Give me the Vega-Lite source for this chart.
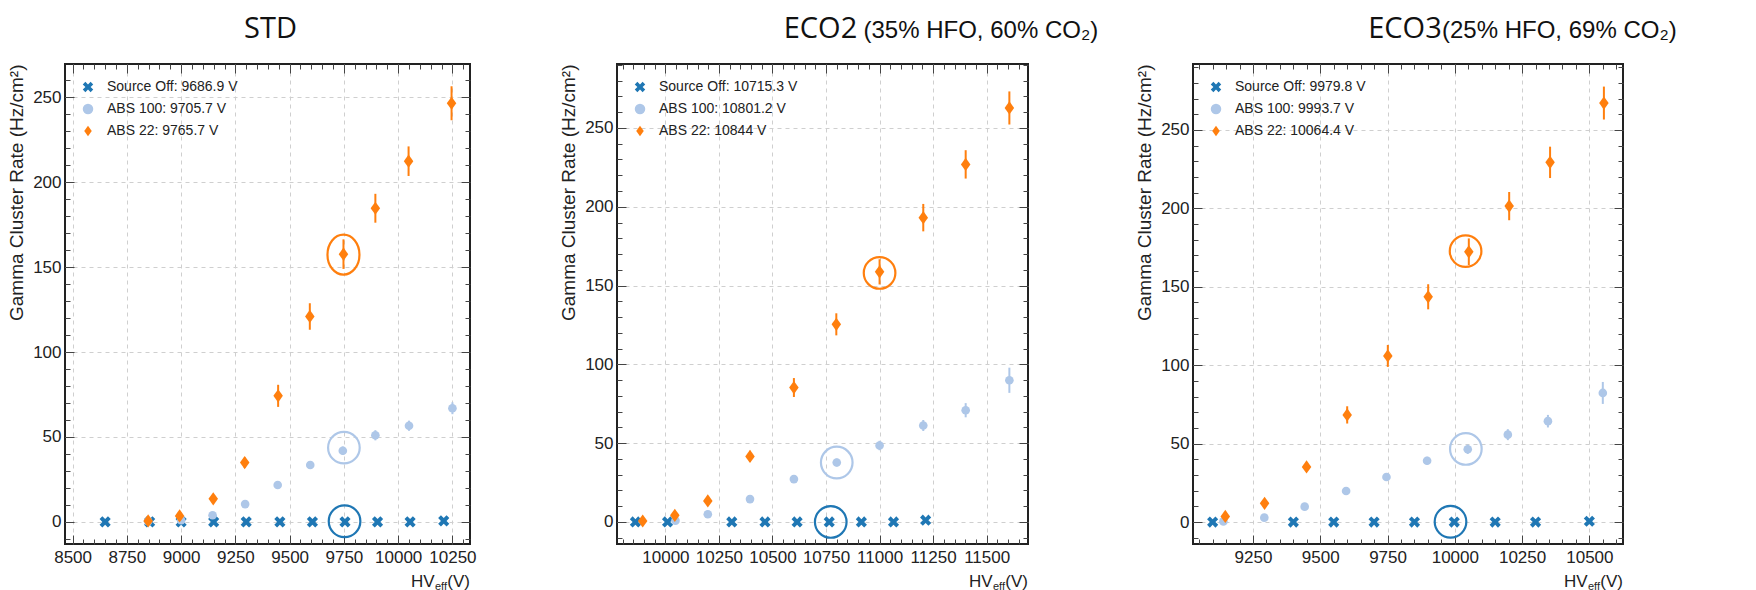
{
  "$schema": "https://vega.github.io/schema/vega-lite/v6.json",
  "background": "white",
  "padding": {"left": 6, "top": 14, "right": 0, "bottom": 0},
  "datasets": {
    "pts": [
      {"panel": "STD", "series": "Source Off: 9686.9 V", "hv": 8650, "rate": 0, "lo": -0.2, "hi": 0.2},
      {"panel": "STD", "series": "Source Off: 9686.9 V", "hv": 8855, "rate": 0, "lo": -0.2, "hi": 0.2},
      {"panel": "STD", "series": "Source Off: 9686.9 V", "hv": 9000, "rate": 0, "lo": -0.2, "hi": 0.2},
      {"panel": "STD", "series": "Source Off: 9686.9 V", "hv": 9150, "rate": 0, "lo": -0.2, "hi": 0.2},
      {"panel": "STD", "series": "Source Off: 9686.9 V", "hv": 9300, "rate": 0, "lo": -0.2, "hi": 0.2},
      {"panel": "STD", "series": "Source Off: 9686.9 V", "hv": 9455, "rate": 0, "lo": -0.2, "hi": 0.2},
      {"panel": "STD", "series": "Source Off: 9686.9 V", "hv": 9605, "rate": 0, "lo": -0.2, "hi": 0.2},
      {"panel": "STD", "series": "Source Off: 9686.9 V", "hv": 9755, "rate": 0, "lo": -0.2, "hi": 0.2},
      {"panel": "STD", "series": "Source Off: 9686.9 V", "hv": 9905, "rate": 0, "lo": -0.2, "hi": 0.2},
      {"panel": "STD", "series": "Source Off: 9686.9 V", "hv": 10055, "rate": 0, "lo": -0.2, "hi": 0.2},
      {"panel": "STD", "series": "Source Off: 9686.9 V", "hv": 10210, "rate": 0.6, "lo": 0.3, "hi": 0.9},
      {"panel": "STD", "series": "ABS 100: 9705.7 V", "hv": 8848, "rate": 0.4, "lo": 0.2, "hi": 0.6},
      {"panel": "STD", "series": "ABS 100: 9705.7 V", "hv": 9000, "rate": 1.0, "lo": 0.7, "hi": 1.3},
      {"panel": "STD", "series": "ABS 100: 9705.7 V", "hv": 9145, "rate": 3.9, "lo": 3.3, "hi": 4.5},
      {"panel": "STD", "series": "ABS 100: 9705.7 V", "hv": 9295, "rate": 10.5, "lo": 9.5, "hi": 11.5},
      {"panel": "STD", "series": "ABS 100: 9705.7 V", "hv": 9445, "rate": 21.7, "lo": 20.2, "hi": 23.2},
      {"panel": "STD", "series": "ABS 100: 9705.7 V", "hv": 9595, "rate": 33.5, "lo": 31.3, "hi": 35.7},
      {"panel": "STD", "series": "ABS 100: 9705.7 V", "hv": 9745, "rate": 41.9, "lo": 39.4, "hi": 44.4},
      {"panel": "STD", "series": "ABS 100: 9705.7 V", "hv": 9895, "rate": 51.0, "lo": 48.0, "hi": 54.0},
      {"panel": "STD", "series": "ABS 100: 9705.7 V", "hv": 10050, "rate": 56.6, "lo": 53.6, "hi": 59.6},
      {"panel": "STD", "series": "ABS 100: 9705.7 V", "hv": 10250, "rate": 66.9, "lo": 63.4, "hi": 70.4},
      {"panel": "STD", "series": "ABS 22: 9765.7 V", "hv": 8848, "rate": 0.6, "lo": 0.1, "hi": 1.1},
      {"panel": "STD", "series": "ABS 22: 9765.7 V", "hv": 8993, "rate": 3.5, "lo": 2.7, "hi": 4.3},
      {"panel": "STD", "series": "ABS 22: 9765.7 V", "hv": 9148, "rate": 13.6, "lo": 12.0, "hi": 15.2},
      {"panel": "STD", "series": "ABS 22: 9765.7 V", "hv": 9293, "rate": 34.9, "lo": 31.9, "hi": 37.9},
      {"panel": "STD", "series": "ABS 22: 9765.7 V", "hv": 9447, "rate": 74.2, "lo": 67.7, "hi": 80.7},
      {"panel": "STD", "series": "ABS 22: 9765.7 V", "hv": 9593, "rate": 120.9, "lo": 113.1, "hi": 128.7},
      {"panel": "STD", "series": "ABS 22: 9765.7 V", "hv": 9748, "rate": 157.6, "lo": 148.9, "hi": 166.3},
      {"panel": "STD", "series": "ABS 22: 9765.7 V", "hv": 9895, "rate": 184.6, "lo": 176.1, "hi": 193.1},
      {"panel": "STD", "series": "ABS 22: 9765.7 V", "hv": 10048, "rate": 212.3, "lo": 203.6, "hi": 221.0},
      {"panel": "STD", "series": "ABS 22: 9765.7 V", "hv": 10246, "rate": 246.4, "lo": 236.4, "hi": 256.4},
      {"panel": "ECO2", "series": "Source Off: 10715.3 V", "hv": 9860, "rate": 0, "lo": -0.2, "hi": 0.2},
      {"panel": "ECO2", "series": "Source Off: 10715.3 V", "hv": 10010, "rate": 0, "lo": -0.2, "hi": 0.2},
      {"panel": "ECO2", "series": "Source Off: 10715.3 V", "hv": 10310, "rate": 0, "lo": -0.2, "hi": 0.2},
      {"panel": "ECO2", "series": "Source Off: 10715.3 V", "hv": 10465, "rate": 0, "lo": -0.2, "hi": 0.2},
      {"panel": "ECO2", "series": "Source Off: 10715.3 V", "hv": 10615, "rate": 0, "lo": -0.2, "hi": 0.2},
      {"panel": "ECO2", "series": "Source Off: 10715.3 V", "hv": 10765, "rate": 0, "lo": -0.2, "hi": 0.2},
      {"panel": "ECO2", "series": "Source Off: 10715.3 V", "hv": 10915, "rate": 0, "lo": -0.2, "hi": 0.2},
      {"panel": "ECO2", "series": "Source Off: 10715.3 V", "hv": 11065, "rate": 0, "lo": -0.2, "hi": 0.2},
      {"panel": "ECO2", "series": "Source Off: 10715.3 V", "hv": 11215, "rate": 1.1, "lo": 0.7, "hi": 1.5},
      {"panel": "ECO2", "series": "ABS 100: 10801.2 V", "hv": 10047, "rate": 0.8, "lo": 0.5, "hi": 1.1},
      {"panel": "ECO2", "series": "ABS 100: 10801.2 V", "hv": 10198, "rate": 4.9, "lo": 4.3, "hi": 5.5},
      {"panel": "ECO2", "series": "ABS 100: 10801.2 V", "hv": 10395, "rate": 14.5, "lo": 13.5, "hi": 15.5},
      {"panel": "ECO2", "series": "ABS 100: 10801.2 V", "hv": 10600, "rate": 27.2, "lo": 25.2, "hi": 29.2},
      {"panel": "ECO2", "series": "ABS 100: 10801.2 V", "hv": 10800, "rate": 37.7, "lo": 35.2, "hi": 40.2},
      {"panel": "ECO2", "series": "ABS 100: 10801.2 V", "hv": 11000, "rate": 48.5, "lo": 45.5, "hi": 51.5},
      {"panel": "ECO2", "series": "ABS 100: 10801.2 V", "hv": 11204, "rate": 61.2, "lo": 57.7, "hi": 64.7},
      {"panel": "ECO2", "series": "ABS 100: 10801.2 V", "hv": 11402, "rate": 70.9, "lo": 66.4, "hi": 75.4},
      {"panel": "ECO2", "series": "ABS 100: 10801.2 V", "hv": 11606, "rate": 89.9, "lo": 81.9, "hi": 97.9},
      {"panel": "ECO2", "series": "ABS 22: 10844 V", "hv": 9894, "rate": 0.6, "lo": 0.2, "hi": 1.0},
      {"panel": "ECO2", "series": "ABS 22: 10844 V", "hv": 10044, "rate": 4.2, "lo": 3.4, "hi": 5.0},
      {"panel": "ECO2", "series": "ABS 22: 10844 V", "hv": 10198, "rate": 13.3, "lo": 11.8, "hi": 14.8},
      {"panel": "ECO2", "series": "ABS 22: 10844 V", "hv": 10395, "rate": 41.6, "lo": 38.1, "hi": 45.1},
      {"panel": "ECO2", "series": "ABS 22: 10844 V", "hv": 10600, "rate": 85.3, "lo": 79.3, "hi": 91.3},
      {"panel": "ECO2", "series": "ABS 22: 10844 V", "hv": 10798, "rate": 125.4, "lo": 118.4, "hi": 132.4},
      {"panel": "ECO2", "series": "ABS 22: 10844 V", "hv": 11000, "rate": 158.7, "lo": 150.7, "hi": 166.7},
      {"panel": "ECO2", "series": "ABS 22: 10844 V", "hv": 11204, "rate": 193.1, "lo": 184.4, "hi": 201.8},
      {"panel": "ECO2", "series": "ABS 22: 10844 V", "hv": 11402, "rate": 226.9, "lo": 217.9, "hi": 235.9},
      {"panel": "ECO2", "series": "ABS 22: 10844 V", "hv": 11606, "rate": 262.7, "lo": 252.2, "hi": 273.2},
      {"panel": "ECO3", "series": "Source Off: 9979.8 V", "hv": 9100, "rate": 0, "lo": -0.2, "hi": 0.2},
      {"panel": "ECO3", "series": "Source Off: 9979.8 V", "hv": 9400, "rate": 0, "lo": -0.2, "hi": 0.2},
      {"panel": "ECO3", "series": "Source Off: 9979.8 V", "hv": 9550, "rate": 0, "lo": -0.2, "hi": 0.2},
      {"panel": "ECO3", "series": "Source Off: 9979.8 V", "hv": 9700, "rate": 0, "lo": -0.2, "hi": 0.2},
      {"panel": "ECO3", "series": "Source Off: 9979.8 V", "hv": 9850, "rate": 0, "lo": -0.2, "hi": 0.2},
      {"panel": "ECO3", "series": "Source Off: 9979.8 V", "hv": 9998, "rate": 0, "lo": -0.2, "hi": 0.2},
      {"panel": "ECO3", "series": "Source Off: 9979.8 V", "hv": 10150, "rate": 0, "lo": -0.2, "hi": 0.2},
      {"panel": "ECO3", "series": "Source Off: 9979.8 V", "hv": 10300, "rate": 0, "lo": -0.2, "hi": 0.2},
      {"panel": "ECO3", "series": "Source Off: 9979.8 V", "hv": 10500, "rate": 0.5, "lo": 0.2, "hi": 0.8},
      {"panel": "ECO3", "series": "ABS 100: 9993.7 V", "hv": 9140, "rate": 0.4, "lo": 0.2, "hi": 0.6},
      {"panel": "ECO3", "series": "ABS 100: 9993.7 V", "hv": 9292, "rate": 2.8, "lo": 2.3, "hi": 3.3},
      {"panel": "ECO3", "series": "ABS 100: 9993.7 V", "hv": 9442, "rate": 9.8, "lo": 8.8, "hi": 10.8},
      {"panel": "ECO3", "series": "ABS 100: 9993.7 V", "hv": 9596, "rate": 19.8, "lo": 18.3, "hi": 21.3},
      {"panel": "ECO3", "series": "ABS 100: 9993.7 V", "hv": 9746, "rate": 28.7, "lo": 26.7, "hi": 30.7},
      {"panel": "ECO3", "series": "ABS 100: 9993.7 V", "hv": 9897, "rate": 39.1, "lo": 36.6, "hi": 41.6},
      {"panel": "ECO3", "series": "ABS 100: 9993.7 V", "hv": 10048, "rate": 46.4, "lo": 43.4, "hi": 49.4},
      {"panel": "ECO3", "series": "ABS 100: 9993.7 V", "hv": 10197, "rate": 55.7, "lo": 52.2, "hi": 59.2},
      {"panel": "ECO3", "series": "ABS 100: 9993.7 V", "hv": 10346, "rate": 64.3, "lo": 60.3, "hi": 68.3},
      {"panel": "ECO3", "series": "ABS 100: 9993.7 V", "hv": 10550, "rate": 82.3, "lo": 75.3, "hi": 89.3},
      {"panel": "ECO3", "series": "ABS 22: 10064.4 V", "hv": 9147, "rate": 3.6, "lo": 2.9, "hi": 4.3},
      {"panel": "ECO3", "series": "ABS 22: 10064.4 V", "hv": 9293, "rate": 11.9, "lo": 10.4, "hi": 13.4},
      {"panel": "ECO3", "series": "ABS 22: 10064.4 V", "hv": 9449, "rate": 35.1, "lo": 32.6, "hi": 37.6},
      {"panel": "ECO3", "series": "ABS 22: 10064.4 V", "hv": 9600, "rate": 68.3, "lo": 62.8, "hi": 73.8},
      {"panel": "ECO3", "series": "ABS 22: 10064.4 V", "hv": 9751, "rate": 105.9, "lo": 98.9, "hi": 112.9},
      {"panel": "ECO3", "series": "ABS 22: 10064.4 V", "hv": 9901, "rate": 143.6, "lo": 135.6, "hi": 151.6},
      {"panel": "ECO3", "series": "ABS 22: 10064.4 V", "hv": 10052, "rate": 172.3, "lo": 163.8, "hi": 180.8},
      {"panel": "ECO3", "series": "ABS 22: 10064.4 V", "hv": 10202, "rate": 201.4, "lo": 192.4, "hi": 210.4},
      {"panel": "ECO3", "series": "ABS 22: 10064.4 V", "hv": 10354, "rate": 229.3, "lo": 219.3, "hi": 239.3},
      {"panel": "ECO3", "series": "ABS 22: 10064.4 V", "hv": 10554, "rate": 267.1, "lo": 256.6, "hi": 277.6}
    ],
    "rings": [
      {"panel": "STD", "series": "ABS 22: 9765.7 V", "hv": 9748, "rate": 157.3},
      {"panel": "STD", "series": "ABS 100: 9705.7 V", "hv": 9750, "rate": 43.7},
      {"panel": "STD", "series": "Source Off: 9686.9 V", "hv": 9753, "rate": 0.4},
      {"panel": "ECO2", "series": "ABS 22: 10844 V", "hv": 11000, "rate": 158.0},
      {"panel": "ECO2", "series": "ABS 100: 10801.2 V", "hv": 10800, "rate": 37.7},
      {"panel": "ECO2", "series": "Source Off: 10715.3 V", "hv": 10772, "rate": 0},
      {"panel": "ECO3", "series": "ABS 22: 10064.4 V", "hv": 10040, "rate": 172.7},
      {"panel": "ECO3", "series": "ABS 100: 9993.7 V", "hv": 10041, "rate": 46.6},
      {"panel": "ECO3", "series": "Source Off: 9979.8 V", "hv": 9984, "rate": 0.2}
    ]
  },
  "bounds": "flush",
  "spacing": 147,
  "resolve": {
    "scale": {"color": "independent", "shape": "independent", "size": "independent", "stroke": "independent"},
    "legend": {"color": "independent", "shape": "independent", "size": "independent", "stroke": "independent"}
  },
  "hconcat": [
    {
      "width": 405,
      "height": 480,
      "resolve": {"axis": {"x": "independent", "y": "independent"}},
      "layer": [
        {
          "data": {"name": "pts"},
          "transform": [{"filter": "datum.panel === 'STD'"}],
          "mark": {"type": "rule", "strokeWidth": 2},
          "encoding": {
            "x": {"field": "hv", "type": "quantitative", "scale": {"domain": [8465, 10331], "nice": false, "zero": false},
              "axis": {"orient": "bottom", "values": [8500, 8750, 9000, 9250, 9500, 9750, 10000, 10250], "format": "d", "title": null, "grid": true, "tickSize": -9, "labelPadding": 14}},
            "y": {"field": "lo", "type": "quantitative", "scale": {"domain": [-13, 269.5], "nice": false, "zero": false},
              "axis": {"orient": "left", "values": [0, 50, 100, 150, 200, 250], "title": "Gamma Cluster Rate (Hz/cm²)", "titleAnchor": "end", "titlePadding": 6, "grid": true, "tickSize": -9, "labelPadding": 13}},
            "y2": {"field": "hi"},
            "stroke": {"field": "series", "type": "nominal", "legend": null,
              "scale": {"domain": ["ABS 22: 9765.7 V", "ABS 100: 9705.7 V", "Source Off: 9686.9 V"], "range": ["#ff7f0e", "#aec7e8", "#1f77b4"]}}
          }
        },
        {
          "data": {"name": "pts"},
          "transform": [{"filter": "datum.panel === 'STD'"}],
          "mark": {"type": "point", "filled": true, "opacity": 1, "strokeWidth": 0},
          "encoding": {
            "x": {"field": "hv", "type": "quantitative", "scale": {"domain": [8465, 10331], "nice": false, "zero": false},
              "axis": {"orient": "top", "values": [8500, 8750, 9000, 9250, 9500, 9750, 10000, 10250], "labels": false, "title": null, "tickSize": -9}},
            "y": {"field": "rate", "type": "quantitative", "scale": {"domain": [-13, 269.5], "nice": false, "zero": false},
              "axis": {"orient": "right", "values": [0, 50, 100, 150, 200, 250], "labels": false, "title": null, "tickSize": -9}},
            "color": {"field": "series", "type": "nominal",
              "scale": {"domain": ["Source Off: 9686.9 V", "ABS 100: 9705.7 V", "ABS 22: 9765.7 V"], "range": ["#1f77b4", "#aec7e8", "#ff7f0e"]},
              "legend": {"title": null, "orient": "top-left", "offset": 16, "padding": 0, "labelFont": "Liberation Sans", "labelFontSize": 14, "labelColor": "#222", "symbolSize": 110, "labelOffset": 12, "rowPadding": 8, "symbolStrokeWidth": 0}},
            "shape": {"field": "series", "type": "nominal",
              "scale": {"domain": ["Source Off: 9686.9 V", "ABS 100: 9705.7 V", "ABS 22: 9765.7 V"], "range": ["M-1,-0.5L-0.5,-1L0,-0.5L0.5,-1L1,-0.5L0.5,0L1,0.5L0.5,1L0,0.5L-0.5,1L-1,0.5L-0.5,0Z", "circle", "M0,-1L0.72,0L0,1L-0.72,0Z"]},
              "legend": {"title": null, "orient": "top-left", "offset": 16, "padding": 0, "labelFont": "Liberation Sans", "labelFontSize": 14, "labelColor": "#222", "symbolSize": 110, "labelOffset": 12, "rowPadding": 8, "symbolStrokeWidth": 0}},
            "size": {"field": "series", "type": "ordinal", "legend": null,
              "scale": {"domain": ["ABS 100: 9705.7 V", "Source Off: 9686.9 V", "ABS 22: 9765.7 V"], "range": [75, 175]}}
          }
        },
        {
          "data": {"name": "rings"},
          "transform": [{"filter": "datum.panel === 'STD' && datum.series !== 'ABS 22: 9765.7 V'"}],
          "mark": {"type": "point", "shape": "circle", "filled": false, "size": 1000, "strokeWidth": 2.2, "opacity": 1},
          "encoding": {
            "x": {"field": "hv", "type": "quantitative", "scale": {"domain": [8465, 10331], "nice": false, "zero": false},
              "axis": {"orient": "bottom", "values": [8500, 8550, 8600, 8650, 8700, 8750, 8800, 8850, 8900, 8950, 9000, 9050, 9100, 9150, 9200, 9250, 9300, 9350, 9400, 9450, 9500, 9550, 9600, 9650, 9700, 9750, 9800, 9850, 9900, 9950, 10000, 10050, 10100, 10150, 10200, 10250, 10300], "labels": false, "title": null, "tickSize": -5}},
            "y": {"field": "rate", "type": "quantitative", "scale": {"domain": [-13, 269.5], "nice": false, "zero": false},
              "axis": {"orient": "left", "values": [-10, 0, 10, 20, 30, 40, 50, 60, 70, 80, 90, 100, 110, 120, 130, 140, 150, 160, 170, 180, 190, 200, 210, 220, 230, 240, 250, 260], "labels": false, "title": null, "tickSize": -5}},
            "stroke": {"field": "series", "type": "nominal", "legend": null,
              "scale": {"domain": ["ABS 22: 9765.7 V", "ABS 100: 9705.7 V", "Source Off: 9686.9 V"], "range": ["#ff7f0e", "#aec7e8", "#1f77b4"]}}
          }
        },
        {
          "data": {"name": "rings"},
          "transform": [{"filter": "datum.panel === 'STD' && datum.series === 'ABS 22: 9765.7 V'"}],
          "mark": {"type": "point", "shape": "M0,-1A0.8,1 0 1,1 0,1A0.8,1 0 1,1 0,-1Z", "filled": false, "size": 1600, "strokeWidth": 2.2, "opacity": 1},
          "encoding": {
            "x": {"field": "hv", "type": "quantitative", "axis": null},
            "y": {"field": "rate", "type": "quantitative", "axis": null},
            "stroke": {"field": "series", "type": "nominal", "legend": null,
              "scale": {"domain": ["ABS 22: 9765.7 V", "ABS 100: 9705.7 V", "Source Off: 9686.9 V"], "range": ["#ff7f0e", "#aec7e8", "#1f77b4"]}}
          }
        },
        {
          "data": {"values": [{}]},
          "mark": {"type": "text", "text": "HV", "align": "right", "baseline": "alphabetic", "dx": -35.5, "dy": 43, "font": "Liberation Sans", "fontSize": 17, "color": "#222"},
          "encoding": {
            "x": {"datum": 10331, "type": "quantitative", "scale": {"domain": [8465, 10331], "nice": false, "zero": false},
              "axis": {"orient": "top", "values": [8500, 8550, 8600, 8650, 8700, 8750, 8800, 8850, 8900, 8950, 9000, 9050, 9100, 9150, 9200, 9250, 9300, 9350, 9400, 9450, 9500, 9550, 9600, 9650, 9700, 9750, 9800, 9850, 9900, 9950, 10000, 10050, 10100, 10150, 10200, 10250, 10300], "labels": false, "title": null, "tickSize": -5}},
            "y": {"datum": -13, "type": "quantitative", "scale": {"domain": [-13, 269.5], "nice": false, "zero": false},
              "axis": {"orient": "right", "values": [-10, 0, 10, 20, 30, 40, 50, 60, 70, 80, 90, 100, 110, 120, 130, 140, 150, 160, 170, 180, 190, 200, 210, 220, 230, 240, 250, 260], "labels": false, "title": null, "tickSize": -5}}
          }
        },
        {
          "data": {"values": [{}]},
          "mark": {"type": "text", "text": "eff", "align": "right", "baseline": "alphabetic", "dx": -23, "dy": 46, "font": "Liberation Sans", "fontSize": 11, "color": "#222"},
          "encoding": {
            "x": {"datum": 10331, "type": "quantitative", "axis": null},
            "y": {"datum": -13, "type": "quantitative", "axis": null}
          }
        },
        {
          "data": {"values": [{}]},
          "mark": {"type": "text", "text": "(V)", "align": "right", "baseline": "alphabetic", "dx": 0, "dy": 43, "font": "Liberation Sans", "fontSize": 17, "color": "#222"},
          "encoding": {
            "x": {"datum": 10331, "type": "quantitative", "axis": null},
            "y": {"datum": -13, "type": "quantitative", "axis": null}
          }
        },
        {
          "data": {"values": [{}]},
          "mark": {"type": "text", "text": "STD", "align": "center", "baseline": "alphabetic", "dx": 3, "dy": -26, "font": "Open Sans", "fontSize": 29, "color": "#111"},
          "encoding": {
            "x": {"datum": 9398, "type": "quantitative", "axis": null},
            "y": {"datum": 269.5, "type": "quantitative", "axis": null}
          }
        }
      ]
    },
    {
      "bounds": "flush",
      "spacing": 165,
      "resolve": {
        "scale": {"color": "independent", "shape": "independent", "size": "independent", "stroke": "independent"},
        "legend": {"color": "independent", "shape": "independent", "size": "independent", "stroke": "independent"}
      },
      "hconcat": [
        {
          "width": 411,
          "height": 480,
          "resolve": {"axis": {"x": "independent", "y": "independent"}},
          "layer": [
            {
              "data": {"name": "pts"},
              "transform": [{"filter": "datum.panel === 'ECO2'"}],
              "mark": {"type": "rule", "strokeWidth": 2},
              "encoding": {
                "x": {"field": "hv", "type": "quantitative", "scale": {"domain": [9774, 11693], "nice": false, "zero": false},
                  "axis": {"orient": "bottom", "values": [10000, 10250, 10500, 10750, 11000, 11250, 11500], "format": "d", "title": null, "grid": true, "tickSize": -9, "labelPadding": 14}},
                "y": {"field": "lo", "type": "quantitative", "scale": {"domain": [-14, 290.6], "nice": false, "zero": false},
                  "axis": {"orient": "left", "values": [0, 50, 100, 150, 200, 250], "title": "Gamma Cluster Rate (Hz/cm²)", "titleAnchor": "end", "titlePadding": 6, "grid": true, "tickSize": -9, "labelPadding": 13}},
                "y2": {"field": "hi"},
                "stroke": {"field": "series", "type": "nominal", "legend": null,
                  "scale": {"domain": ["ABS 22: 10844 V", "ABS 100: 10801.2 V", "Source Off: 10715.3 V"], "range": ["#ff7f0e", "#aec7e8", "#1f77b4"]}}
              }
            },
            {
              "data": {"name": "pts"},
              "transform": [{"filter": "datum.panel === 'ECO2'"}],
              "mark": {"type": "point", "filled": true, "opacity": 1, "strokeWidth": 0},
              "encoding": {
                "x": {"field": "hv", "type": "quantitative", "scale": {"domain": [9774, 11693], "nice": false, "zero": false},
                  "axis": {"orient": "top", "values": [10000, 10250, 10500, 10750, 11000, 11250, 11500], "labels": false, "title": null, "tickSize": -9}},
                "y": {"field": "rate", "type": "quantitative", "scale": {"domain": [-14, 290.6], "nice": false, "zero": false},
                  "axis": {"orient": "right", "values": [0, 50, 100, 150, 200, 250], "labels": false, "title": null, "tickSize": -9}},
                "color": {"field": "series", "type": "nominal",
                  "scale": {"domain": ["Source Off: 10715.3 V", "ABS 100: 10801.2 V", "ABS 22: 10844 V"], "range": ["#1f77b4", "#aec7e8", "#ff7f0e"]},
                  "legend": {"title": null, "orient": "top-left", "offset": 16, "padding": 0, "labelFont": "Liberation Sans", "labelFontSize": 14, "labelColor": "#222", "symbolSize": 110, "labelOffset": 12, "rowPadding": 8, "symbolStrokeWidth": 0}},
                "shape": {"field": "series", "type": "nominal",
                  "scale": {"domain": ["Source Off: 10715.3 V", "ABS 100: 10801.2 V", "ABS 22: 10844 V"], "range": ["M-1,-0.5L-0.5,-1L0,-0.5L0.5,-1L1,-0.5L0.5,0L1,0.5L0.5,1L0,0.5L-0.5,1L-1,0.5L-0.5,0Z", "circle", "M0,-1L0.72,0L0,1L-0.72,0Z"]},
                  "legend": {"title": null, "orient": "top-left", "offset": 16, "padding": 0, "labelFont": "Liberation Sans", "labelFontSize": 14, "labelColor": "#222", "symbolSize": 110, "labelOffset": 12, "rowPadding": 8, "symbolStrokeWidth": 0}},
                "size": {"field": "series", "type": "ordinal", "legend": null,
                  "scale": {"domain": ["ABS 100: 10801.2 V", "Source Off: 10715.3 V", "ABS 22: 10844 V"], "range": [75, 175]}}
              }
            },
            {
              "data": {"name": "rings"},
              "transform": [{"filter": "datum.panel === 'ECO2'"}],
              "mark": {"type": "point", "shape": "circle", "filled": false, "size": 1000, "strokeWidth": 2.2, "opacity": 1},
              "encoding": {
                "x": {"field": "hv", "type": "quantitative", "scale": {"domain": [9774, 11693], "nice": false, "zero": false},
                  "axis": {"orient": "bottom", "values": [9800, 9850, 9900, 9950, 10000, 10050, 10100, 10150, 10200, 10250, 10300, 10350, 10400, 10450, 10500, 10550, 10600, 10650, 10700, 10750, 10800, 10850, 10900, 10950, 11000, 11050, 11100, 11150, 11200, 11250, 11300, 11350, 11400, 11450, 11500, 11550, 11600, 11650], "labels": false, "title": null, "tickSize": -5}},
                "y": {"field": "rate", "type": "quantitative", "scale": {"domain": [-14, 290.6], "nice": false, "zero": false},
                  "axis": {"orient": "left", "values": [-10, 0, 10, 20, 30, 40, 50, 60, 70, 80, 90, 100, 110, 120, 130, 140, 150, 160, 170, 180, 190, 200, 210, 220, 230, 240, 250, 260, 270, 280, 290], "labels": false, "title": null, "tickSize": -5}},
                "stroke": {"field": "series", "type": "nominal", "legend": null,
                  "scale": {"domain": ["ABS 22: 10844 V", "ABS 100: 10801.2 V", "Source Off: 10715.3 V"], "range": ["#ff7f0e", "#aec7e8", "#1f77b4"]}}
              }
            },
            {
              "data": {"values": [{}]},
              "mark": {"type": "text", "text": "HV", "align": "right", "baseline": "alphabetic", "dx": -35.5, "dy": 43, "font": "Liberation Sans", "fontSize": 17, "color": "#222"},
              "encoding": {
                "x": {"datum": 11693, "type": "quantitative", "scale": {"domain": [9774, 11693], "nice": false, "zero": false},
                  "axis": {"orient": "top", "values": [9800, 9850, 9900, 9950, 10000, 10050, 10100, 10150, 10200, 10250, 10300, 10350, 10400, 10450, 10500, 10550, 10600, 10650, 10700, 10750, 10800, 10850, 10900, 10950, 11000, 11050, 11100, 11150, 11200, 11250, 11300, 11350, 11400, 11450, 11500, 11550, 11600, 11650], "labels": false, "title": null, "tickSize": -5}},
                "y": {"datum": -14, "type": "quantitative", "scale": {"domain": [-14, 290.6], "nice": false, "zero": false},
                  "axis": {"orient": "right", "values": [-10, 0, 10, 20, 30, 40, 50, 60, 70, 80, 90, 100, 110, 120, 130, 140, 150, 160, 170, 180, 190, 200, 210, 220, 230, 240, 250, 260, 270, 280, 290], "labels": false, "title": null, "tickSize": -5}}
              }
            },
            {
              "data": {"values": [{}]},
              "mark": {"type": "text", "text": "eff", "align": "right", "baseline": "alphabetic", "dx": -23, "dy": 46, "font": "Liberation Sans", "fontSize": 11, "color": "#222"},
              "encoding": {
                "x": {"datum": 11693, "type": "quantitative", "axis": null},
                "y": {"datum": -14, "type": "quantitative", "axis": null}
              }
            },
            {
              "data": {"values": [{}]},
              "mark": {"type": "text", "text": "(V)", "align": "right", "baseline": "alphabetic", "dx": 0, "dy": 43, "font": "Liberation Sans", "fontSize": 17, "color": "#222"},
              "encoding": {
                "x": {"datum": 11693, "type": "quantitative", "axis": null},
                "y": {"datum": -14, "type": "quantitative", "axis": null}
              }
            },
            {
              "data": {"values": [{}]},
              "mark": {"type": "text", "text": "ECO2", "align": "center", "baseline": "alphabetic", "dx": -2, "dy": -26, "font": "Open Sans", "fontSize": 29, "color": "#111"},
              "encoding": {
                "x": {"datum": 10733.5, "type": "quantitative", "axis": null},
                "y": {"datum": 290.6, "type": "quantitative", "axis": null}
              }
            },
            {
              "data": {"values": [{}]},
              "mark": {"type": "text", "text": "(35% HFO, 60% CO₂)", "align": "left", "baseline": "alphabetic", "dx": 41, "dy": -26, "font": "Liberation Sans", "fontSize": 24, "color": "#111"},
              "encoding": {
                "x": {"datum": 10733.5, "type": "quantitative", "axis": null},
                "y": {"datum": 290.6, "type": "quantitative", "axis": null}
              }
            }
          ]
        },
        {
          "width": 430,
          "height": 480,
          "resolve": {"axis": {"x": "independent", "y": "independent"}},
          "layer": [
            {
              "data": {"name": "pts"},
              "transform": [{"filter": "datum.panel === 'ECO3'"}],
              "mark": {"type": "rule", "strokeWidth": 2},
              "encoding": {
                "x": {"field": "hv", "type": "quantitative", "scale": {"domain": [9027, 10625], "nice": false, "zero": false},
                  "axis": {"orient": "bottom", "values": [9250, 9500, 9750, 10000, 10250, 10500], "format": "d", "title": null, "grid": true, "tickSize": -9, "labelPadding": 14}},
                "y": {"field": "lo", "type": "quantitative", "scale": {"domain": [-14, 292], "nice": false, "zero": false},
                  "axis": {"orient": "left", "values": [0, 50, 100, 150, 200, 250], "title": "Gamma Cluster Rate (Hz/cm²)", "titleAnchor": "end", "titlePadding": 6, "grid": true, "tickSize": -9, "labelPadding": 13}},
                "y2": {"field": "hi"},
                "stroke": {"field": "series", "type": "nominal", "legend": null,
                  "scale": {"domain": ["ABS 22: 10064.4 V", "ABS 100: 9993.7 V", "Source Off: 9979.8 V"], "range": ["#ff7f0e", "#aec7e8", "#1f77b4"]}}
              }
            },
            {
              "data": {"name": "pts"},
              "transform": [{"filter": "datum.panel === 'ECO3'"}],
              "mark": {"type": "point", "filled": true, "opacity": 1, "strokeWidth": 0},
              "encoding": {
                "x": {"field": "hv", "type": "quantitative", "scale": {"domain": [9027, 10625], "nice": false, "zero": false},
                  "axis": {"orient": "top", "values": [9250, 9500, 9750, 10000, 10250, 10500], "labels": false, "title": null, "tickSize": -9}},
                "y": {"field": "rate", "type": "quantitative", "scale": {"domain": [-14, 292], "nice": false, "zero": false},
                  "axis": {"orient": "right", "values": [0, 50, 100, 150, 200, 250], "labels": false, "title": null, "tickSize": -9}},
                "color": {"field": "series", "type": "nominal",
                  "scale": {"domain": ["Source Off: 9979.8 V", "ABS 100: 9993.7 V", "ABS 22: 10064.4 V"], "range": ["#1f77b4", "#aec7e8", "#ff7f0e"]},
                  "legend": {"title": null, "orient": "top-left", "offset": 16, "padding": 0, "labelFont": "Liberation Sans", "labelFontSize": 14, "labelColor": "#222", "symbolSize": 110, "labelOffset": 12, "rowPadding": 8, "symbolStrokeWidth": 0}},
                "shape": {"field": "series", "type": "nominal",
                  "scale": {"domain": ["Source Off: 9979.8 V", "ABS 100: 9993.7 V", "ABS 22: 10064.4 V"], "range": ["M-1,-0.5L-0.5,-1L0,-0.5L0.5,-1L1,-0.5L0.5,0L1,0.5L0.5,1L0,0.5L-0.5,1L-1,0.5L-0.5,0Z", "circle", "M0,-1L0.72,0L0,1L-0.72,0Z"]},
                  "legend": {"title": null, "orient": "top-left", "offset": 16, "padding": 0, "labelFont": "Liberation Sans", "labelFontSize": 14, "labelColor": "#222", "symbolSize": 110, "labelOffset": 12, "rowPadding": 8, "symbolStrokeWidth": 0}},
                "size": {"field": "series", "type": "ordinal", "legend": null,
                  "scale": {"domain": ["ABS 100: 9993.7 V", "Source Off: 9979.8 V", "ABS 22: 10064.4 V"], "range": [75, 175]}}
              }
            },
            {
              "data": {"name": "rings"},
              "transform": [{"filter": "datum.panel === 'ECO3'"}],
              "mark": {"type": "point", "shape": "circle", "filled": false, "size": 1000, "strokeWidth": 2.2, "opacity": 1},
              "encoding": {
                "x": {"field": "hv", "type": "quantitative", "scale": {"domain": [9027, 10625], "nice": false, "zero": false},
                  "axis": {"orient": "bottom", "values": [9050, 9100, 9150, 9200, 9250, 9300, 9350, 9400, 9450, 9500, 9550, 9600, 9650, 9700, 9750, 9800, 9850, 9900, 9950, 10000, 10050, 10100, 10150, 10200, 10250, 10300, 10350, 10400, 10450, 10500, 10550, 10600], "labels": false, "title": null, "tickSize": -5}},
                "y": {"field": "rate", "type": "quantitative", "scale": {"domain": [-14, 292], "nice": false, "zero": false},
                  "axis": {"orient": "left", "values": [-10, 0, 10, 20, 30, 40, 50, 60, 70, 80, 90, 100, 110, 120, 130, 140, 150, 160, 170, 180, 190, 200, 210, 220, 230, 240, 250, 260, 270, 280, 290], "labels": false, "title": null, "tickSize": -5}},
                "stroke": {"field": "series", "type": "nominal", "legend": null,
                  "scale": {"domain": ["ABS 22: 10064.4 V", "ABS 100: 9993.7 V", "Source Off: 9979.8 V"], "range": ["#ff7f0e", "#aec7e8", "#1f77b4"]}}
              }
            },
            {
              "data": {"values": [{}]},
              "mark": {"type": "text", "text": "HV", "align": "right", "baseline": "alphabetic", "dx": -35.5, "dy": 43, "font": "Liberation Sans", "fontSize": 17, "color": "#222"},
              "encoding": {
                "x": {"datum": 10625, "type": "quantitative", "scale": {"domain": [9027, 10625], "nice": false, "zero": false},
                  "axis": {"orient": "top", "values": [9050, 9100, 9150, 9200, 9250, 9300, 9350, 9400, 9450, 9500, 9550, 9600, 9650, 9700, 9750, 9800, 9850, 9900, 9950, 10000, 10050, 10100, 10150, 10200, 10250, 10300, 10350, 10400, 10450, 10500, 10550, 10600], "labels": false, "title": null, "tickSize": -5}},
                "y": {"datum": -14, "type": "quantitative", "scale": {"domain": [-14, 292], "nice": false, "zero": false},
                  "axis": {"orient": "right", "values": [-10, 0, 10, 20, 30, 40, 50, 60, 70, 80, 90, 100, 110, 120, 130, 140, 150, 160, 170, 180, 190, 200, 210, 220, 230, 240, 250, 260, 270, 280, 290], "labels": false, "title": null, "tickSize": -5}}
              }
            },
            {
              "data": {"values": [{}]},
              "mark": {"type": "text", "text": "eff", "align": "right", "baseline": "alphabetic", "dx": -23, "dy": 46, "font": "Liberation Sans", "fontSize": 11, "color": "#222"},
              "encoding": {
                "x": {"datum": 10625, "type": "quantitative", "axis": null},
                "y": {"datum": -14, "type": "quantitative", "axis": null}
              }
            },
            {
              "data": {"values": [{}]},
              "mark": {"type": "text", "text": "(V)", "align": "right", "baseline": "alphabetic", "dx": 0, "dy": 43, "font": "Liberation Sans", "fontSize": 17, "color": "#222"},
              "encoding": {
                "x": {"datum": 10625, "type": "quantitative", "axis": null},
                "y": {"datum": -14, "type": "quantitative", "axis": null}
              }
            },
            {
              "data": {"values": [{}]},
              "mark": {"type": "text", "text": "ECO3", "align": "center", "baseline": "alphabetic", "dx": -3, "dy": -26, "font": "Open Sans", "fontSize": 29, "color": "#111"},
              "encoding": {
                "x": {"datum": 9826, "type": "quantitative", "axis": null},
                "y": {"datum": 292, "type": "quantitative", "axis": null}
              }
            },
            {
              "data": {"values": [{}]},
              "mark": {"type": "text", "text": "(25% HFO, 69% CO₂)", "align": "left", "baseline": "alphabetic", "dx": 34, "dy": -26, "font": "Liberation Sans", "fontSize": 24, "color": "#111"},
              "encoding": {
                "x": {"datum": 9826, "type": "quantitative", "axis": null},
                "y": {"datum": 292, "type": "quantitative", "axis": null}
              }
            }
          ]
        }
      ]
    }
  ],
  "config": {
    "view": {"stroke": "#222", "strokeWidth": 2},
    "font": "Liberation Sans",
    "axis": {
      "domain": false,
      "grid": false,
      "gridColor": "#cfcfcf",
      "gridDash": [4, 4],
      "gridWidth": 1,
      "tickColor": "#444",
      "tickWidth": 1,
      "labelFont": "Liberation Sans",
      "labelFontSize": 17,
      "labelColor": "#222",
      "labelFlush": false,
      "labelOverlap": false,
      "titleFont": "Liberation Sans",
      "titleFontSize": 19,
      "titleFontWeight": "normal",
      "titleColor": "#222"
    }
  }
}
